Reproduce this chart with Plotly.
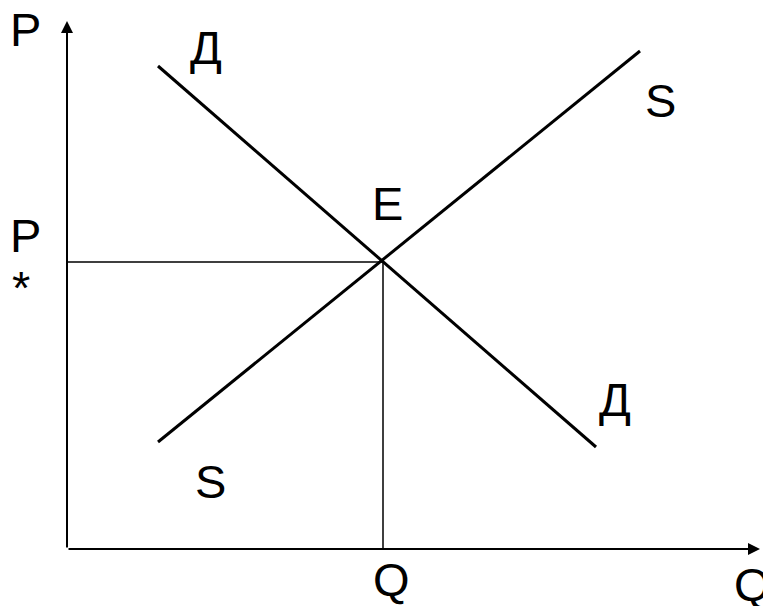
import plotly.graph_objects as go

# coordinates measured from the origin of the diagram
demand_q = [91, 529]
demand_p = [483, 102]
supply_q = [91, 573]
supply_p = [107, 498]
eq_q = 316
eq_p = 287
axis_q_max = 693
axis_p_max = 528

labels = [
    ("P", -42, 520),
    ("P", -42, 314),
    ("*", -46, 262),
    ("Д", 139, 502),
    ("S", 593, 449),
    ("E", 320, 346),
    ("Д", 548, 150),
    ("S", 143, 68),
    ("Q", 324, -30),
    ("Q", 685, -35),
]

fig = go.Figure()

fig.add_trace(go.Scatter(x=demand_q, y=demand_p, mode='lines',
                         line=dict(color='black', width=3)))
fig.add_trace(go.Scatter(x=supply_q, y=supply_p, mode='lines',
                         line=dict(color='black', width=3)))
fig.add_trace(go.Scatter(x=[0, eq_q, eq_q], y=[eq_p, eq_p, 0], mode='lines',
                         line=dict(color='black', width=1.5)))

annots = []
# axes with arrows
annots.append(dict(x=0, y=axis_p_max, ax=0, ay=0, xref='x', yref='y', axref='x', ayref='y',
                   showarrow=True, arrowhead=2, arrowsize=1.2, arrowwidth=2, arrowcolor='black', text=''))
annots.append(dict(x=axis_q_max, y=0, ax=0, ay=0, xref='x', yref='y', axref='x', ayref='y',
                   showarrow=True, arrowhead=2, arrowsize=1.2, arrowwidth=2, arrowcolor='black', text=''))

for txt, lx, ly in labels:
    annots.append(dict(x=lx, y=ly, xref='x', yref='y', text=txt, showarrow=False,
                       xanchor='center', yanchor='middle',
                       font=dict(family='Liberation Sans, Arial', size=47, color='black')))

fig.update_layout(
    width=763,
    height=598,
    margin=dict(l=0, r=0, t=0, b=0),
    plot_bgcolor='white',
    paper_bgcolor='white',
    showlegend=False,
    annotations=annots,
    xaxis=dict(range=[-59, 704], visible=False, fixedrange=True),
    yaxis=dict(range=[-57, 541], visible=False, fixedrange=True),
)

fig.write_html("out.html")
